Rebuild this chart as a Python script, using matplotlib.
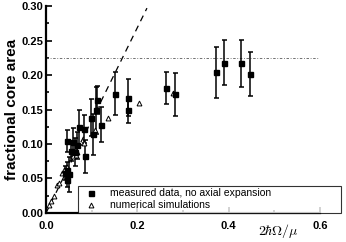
import numpy as np
import matplotlib
matplotlib.use("Agg")
import matplotlib.pyplot as plt
from matplotlib.ticker import MultipleLocator
from matplotlib.lines import Line2D

plt.rcParams['font.family'] = ['Liberation Sans', 'DejaVu Sans']
plt.rcParams['mathtext.fontset'] = 'cm'

# measured data, no axial expansion
meas_x = [0.263, 0.282, 0.372, 0.390, 0.426, 0.446,
          0.151, 0.180, 0.180,
          0.112, 0.109, 0.099, 0.121, 0.102, 0.084, 0.072,
          0.045, 0.060, 0.068, 0.054, 0.063, 0.085,
          0.046, 0.041, 0.050, 0.045]
meas_y = [0.181, 0.172, 0.204, 0.218, 0.217, 0.201,
          0.173, 0.167, 0.149,
          0.164, 0.149, 0.138, 0.128, 0.114, 0.122, 0.124,
          0.104, 0.103, 0.098, 0.090, 0.088, 0.082,
          0.062, 0.058, 0.056, 0.048]
meas_err = [0.023, 0.031, 0.037, 0.033, 0.034, 0.032,
            0.031, 0.027, 0.018,
            0.020, 0.034, 0.027, 0.025, 0.030, 0.020, 0.025,
            0.016, 0.020, 0.020, 0.015, 0.020, 0.024,
            0.012, 0.010, 0.025, 0.010]

# numerical simulations
sim_x = [0.007, 0.012, 0.017, 0.025, 0.028, 0.036, 0.039, 0.047,
         0.060, 0.065, 0.068, 0.083, 0.107, 0.136, 0.203, 0.278]
sim_y = [0.012, 0.017, 0.024, 0.041, 0.044, 0.058, 0.062, 0.067,
         0.082, 0.084, 0.089, 0.101, 0.121, 0.137, 0.159, 0.174]

# guide lines
slope_x = [0.0, 0.221]
slope_y = [0.0, 0.297]
limit_y = 0.225

fig = plt.figure(figsize=(3.46, 2.42), dpi=100)
ax = fig.add_axes([0.133, 0.12, 0.792, 0.855])

ax.plot(slope_x, slope_y, color="black", ls=(0, (5, 4)), lw=0.9)
ax.plot([0.0, 0.598], [limit_y, limit_y], color="0.35", ls=(0, (3, 2, 1, 2)), lw=0.6)

ax.errorbar(meas_x, meas_y, yerr=meas_err, fmt="s", color="black", ms=3.6,
            elinewidth=1.1, capsize=1.8, capthick=1.1)
ax.plot(sim_x, sim_y, "^", mfc="white", mec="black", ms=3.5, mew=0.7, ls="none")

ax.set_xlim(0, 0.6)
ax.set_ylim(0, 0.30)
ax.xaxis.set_major_locator(MultipleLocator(0.2))
ax.xaxis.set_minor_locator(MultipleLocator(0.1))
ax.yaxis.set_major_locator(MultipleLocator(0.05))
ax.yaxis.set_minor_locator(MultipleLocator(0.025))
ax.xaxis.set_major_formatter(plt.FuncFormatter(lambda v, p: "%.1f" % v))
ax.yaxis.set_major_formatter(plt.FuncFormatter(lambda v, p: "%.2f" % v))
ax.tick_params(which="both", direction="in", width=1.2)
ax.tick_params(which="major", length=4, labelsize=8)
ax.tick_params(axis="y", which="major", pad=2)
ax.tick_params(axis="x", which="major", pad=6)
ax.tick_params(which="minor", length=2)
for lab in ax.get_xticklabels() + ax.get_yticklabels():
    lab.set_fontweight("bold")
for s in ["top", "right"]:
    ax.spines[s].set_visible(False)
for s in ["left", "bottom"]:
    ax.spines[s].set_linewidth(1.6)

ax.set_ylabel("fractional core area", fontsize=11, fontweight="bold", labelpad=2)
ax.text(0.85, -0.085, r"$2\hbar\Omega/\mu$", transform=ax.transAxes,
        ha="center", va="center", fontsize=10)

handles = [Line2D([], [], marker="s", color="black", ms=3.6, ls="none"),
           Line2D([], [], marker="^", mfc="white", mec="black", ms=3.5, mew=0.7, ls="none")]
labels = ["measured data, no axial expansion", "numerical simulations"]
leg = ax.legend(handles, labels, loc="lower left", bbox_to_anchor=(0.117, 0.0, 0.96, 0.155),
                mode="expand", borderaxespad=0, fancybox=False, fontsize=7.5,
                handletextpad=0.8, labelspacing=0.2, borderpad=0.25,
                handlelength=2.0)
leg.get_frame().set_edgecolor("black")
leg.get_frame().set_linewidth(0.8)
leg.set_zorder(5)

fig.savefig("out.png", dpi=100)
